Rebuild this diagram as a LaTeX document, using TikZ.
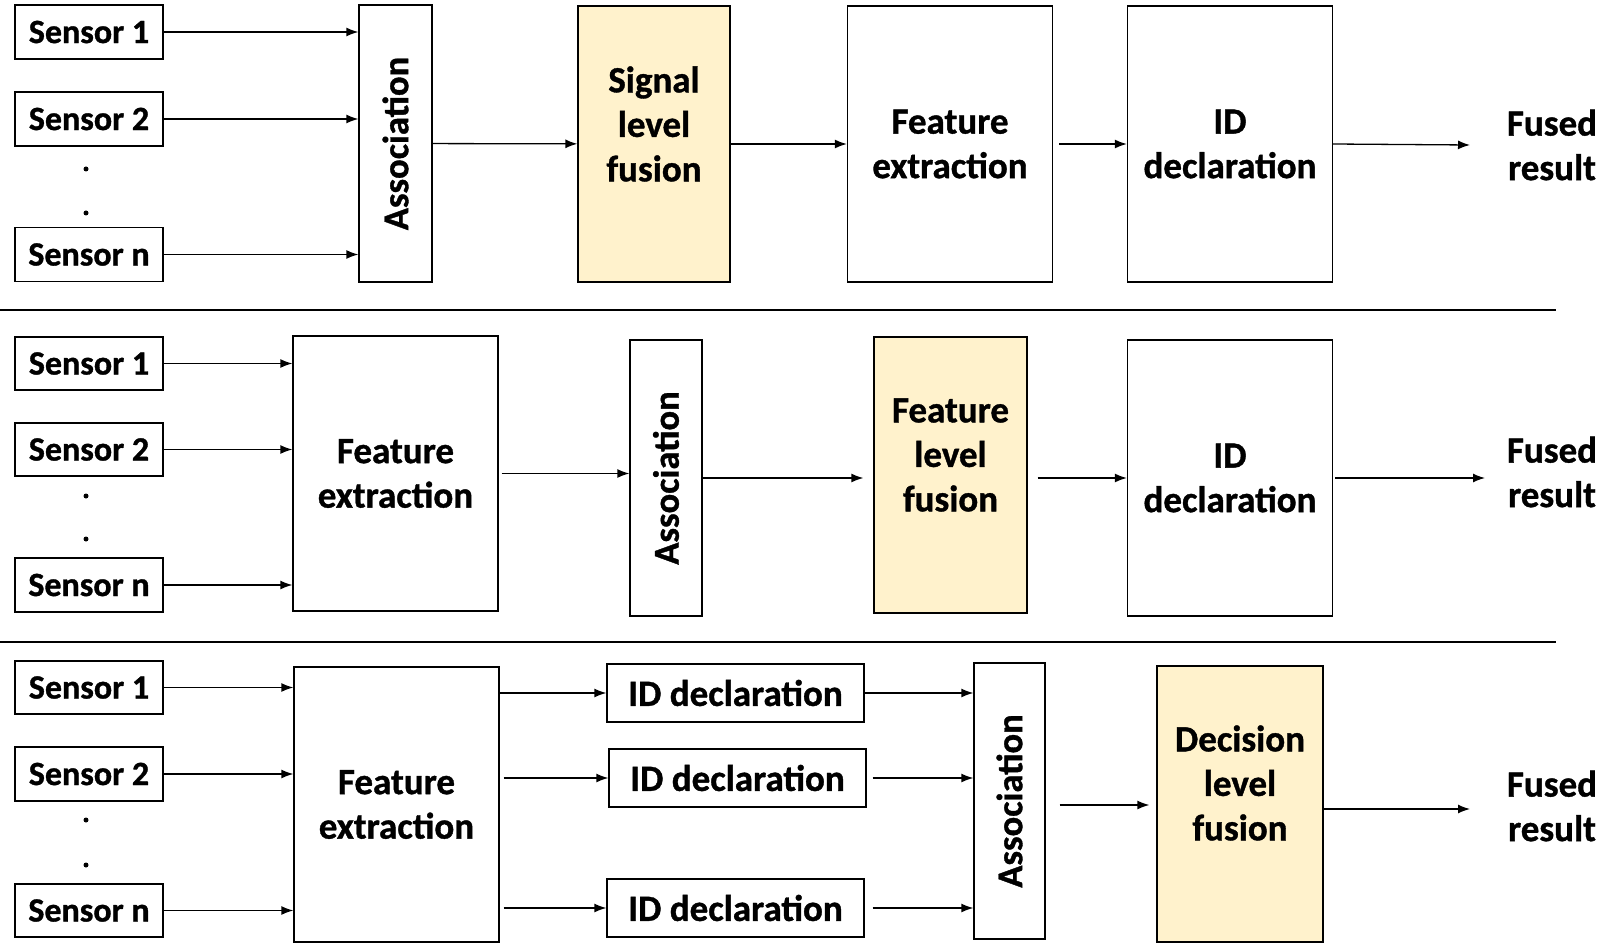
\documentclass[tikz,border=0pt]{standalone}
\usepackage{fontspec}
\setmainfont{Carlito}[BoldFeatures={FakeBold=1}]
\usetikzlibrary{arrows.meta}
\definecolor{fuse}{HTML}{FFF2CC}
\tikzset{
  x=1pt, y=-1pt,
  box/.style={draw=black, line width=1.3pt, rectangle, inner sep=0pt, align=center, font=\bfseries\fontsize{37}{44.5}\selectfont},
  sensor/.style={box, minimum width=148pt, minimum height=54pt, font=\bfseries\fontsize{34}{40}\selectfont},
  assoc/.style={box, font=\bfseries\fontsize{36.5}{42}\selectfont},
  fusebox/.style={box, fill=fuse},
  lbl/.style={inner sep=0pt, align=center, font=\bfseries\fontsize{37}{44.5}\selectfont},
  dotn/.style={circle, fill=black, inner sep=0pt, minimum size=5pt},
  arr/.style={-{Latex[length=12pt,width=9pt]}, line width=1.3pt},
  sep/.style={line width=1.2pt}
}
\begin{document}
\begin{tikzpicture}
\useasboundingbox (0,0) rectangle (1618,952);
% ---------- row 1
\node[sensor] (s1a) at (89,32) {Sensor 1};
\node[sensor] (s2a) at (89,119) {Sensor 2};
\node[sensor] (sna) at (89,254.5) {Sensor n};
\node[dotn] (d1a) at (86,169) {};
\node[dotn] (d2a) at (86,213) {};
\node[assoc, minimum width=73pt, minimum height=277pt] (asa) at (395.5,143.5) {\rotatebox{90}{Association}};
\node[fusebox, minimum width=152pt, minimum height=276pt] (sig) at (654,144) {};
\node[lbl] (sigt) at (654,124) {Signal\\level\\fusion};
\node[box, minimum width=205pt, minimum height=276pt] (fea) at (950,144) {Feature\\extraction};
\node[box, minimum width=205pt, minimum height=276pt] (ida) at (1230,144) {ID\\declaration};
\node[lbl] (fra) at (1552,145) {Fused\\result};
\coordinate (ea) at (1470,145);
\draw[arr] (s1a.east) -- (s1a.east -| asa.west);
\draw[arr] (s2a.east) -- (s2a.east -| asa.west);
\draw[arr] (sna.east) -- (sna.east -| asa.west);
\draw[arr] (asa) -- (sig);
\draw[arr] (sig) -- (fea);
\draw[arr, shorten <=6pt] (fea) -- (ida);
\draw[arr] (ida.east) -- (ea);
\coordinate (l1a) at (0,310);
\coordinate (l1b) at (1556,310);
\draw[sep] (l1a) -- (l1b);
% ---------- row 2
\node[sensor, minimum height=53pt] (s1b) at (89,363.5) {Sensor 1};
\node[sensor, minimum height=53pt] (s2b) at (89,449.5) {Sensor 2};
\node[sensor] (snb) at (89,585) {Sensor n};
\node[dotn] (d1b) at (86,496) {};
\node[dotn] (d2b) at (86,539) {};
\node[box, minimum width=205pt, minimum height=275pt] (feb) at (395.5,473.5) {Feature\\extraction};
\node[assoc, minimum width=72pt, minimum height=276pt] (asb) at (666,478) {\rotatebox{90}{Association}};
\node[fusebox, minimum width=153pt, minimum height=276pt] (flf) at (950.5,475) {};
\node[lbl] (flft) at (950.5,455) {Feature\\level\\fusion};
\node[box, minimum width=205pt, minimum height=276pt] (idb) at (1230,478) {ID\\declaration};
\node[lbl] (frb) at (1552,472) {Fused\\result};
\coordinate (eb) at (1485,478);
\draw[arr] (s1b.east) -- (s1b.east -| feb.west);
\draw[arr] (s2b.east) -- (s2b.east -| feb.west);
\draw[arr] (snb.east) -- (snb.east -| feb.west);
\draw[arr, shorten <=3pt] (feb.east) -- (feb.east -| asb.west);
\draw[arr, shorten >=10pt] (asb) -- (asb -| flf.west);
\draw[arr, shorten <=10pt] (flf.east |- idb) -- (idb);
\draw[arr, shorten <=2pt] (idb.east) -- (eb);
\coordinate (l2a) at (0,642);
\coordinate (l2b) at (1556,642);
\draw[sep] (l2a) -- (l2b);
% ---------- row 3
\node[sensor, minimum height=53pt] (s1c) at (89,687.5) {Sensor 1};
\node[sensor] (s2c) at (89,774) {Sensor 2};
\node[sensor, minimum height=53pt] (snc) at (89,910.5) {Sensor n};
\node[dotn] (d1c) at (86,820) {};
\node[dotn] (d2c) at (86,865) {};
\node[box, minimum width=205pt, minimum height=275pt] (fec) at (396.5,804.5) {Feature\\extraction};
\node[box, minimum width=257pt, minimum height=58pt] (id1) at (735.5,693) {ID declaration};
\node[box, minimum width=257pt, minimum height=58pt] (id2) at (737.5,778) {ID declaration};
\node[box, minimum width=257pt, minimum height=58pt] (id3) at (735.5,908) {ID declaration};
\node[assoc, minimum width=71pt, minimum height=276pt] (asc) at (1009.5,801) {\rotatebox{90}{Association}};
\node[fusebox, minimum width=166pt, minimum height=276pt] (dlf) at (1240,804) {};
\node[lbl] (dlft) at (1240,783) {Decision\\level\\fusion};
\node[lbl] (frc) at (1552,806) {Fused\\result};
\coordinate (ec) at (1470,809);
\draw[arr] (s1c.east) -- (s1c.east -| fec.west);
\draw[arr] (s2c.east) -- (s2c.east -| fec.west);
\draw[arr] (snc.east) -- (snc.east -| fec.west);
\draw[arr] (fec.east |- id1) -- (id1.west);
\draw[arr, shorten <=4pt] (fec.east |- id2) -- (id2.west);
\draw[arr, shorten <=4pt] (fec.east |- id3) -- (id3.west);
\draw[arr] (id1.east) -- (id1.east -| asc.west);
\draw[arr, shorten <=6pt] (id2.east) -- (id2.east -| asc.west);
\draw[arr, shorten <=8pt] (id3.east) -- (id3.east -| asc.west);
\draw[arr, shorten <=14pt, shorten >=7pt] (asc.east |- 0,805) -- (dlf.west |- 0,805);
\draw[arr] (dlf.east |- ec) -- (ec);
\end{tikzpicture}
\end{document}
